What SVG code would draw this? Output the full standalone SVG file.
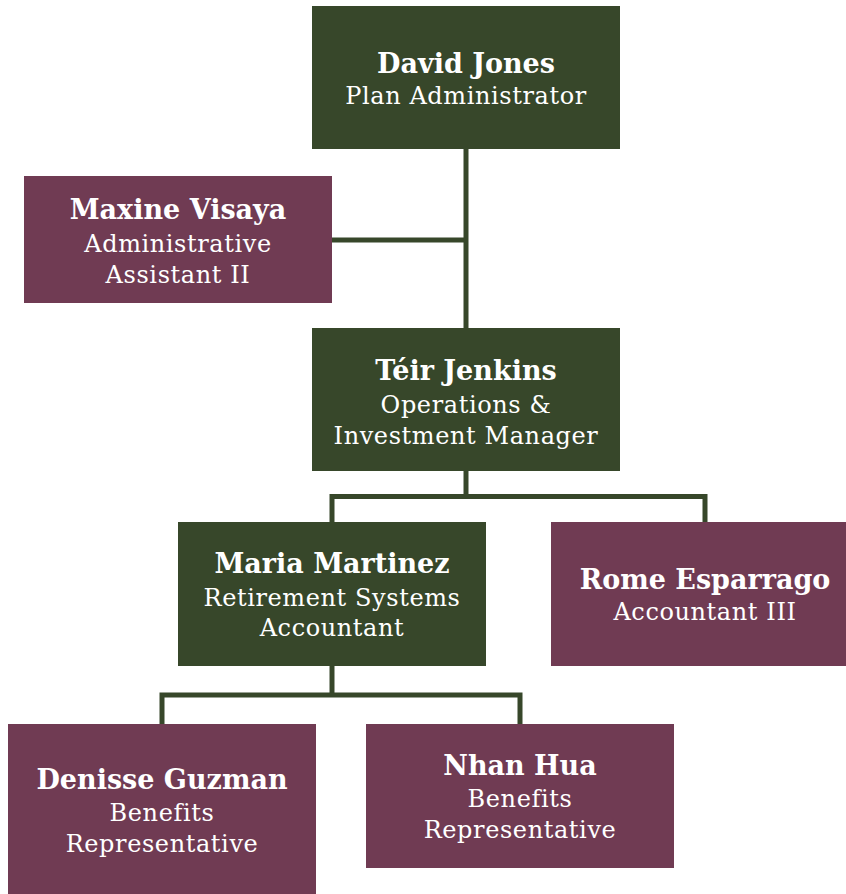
<svg xmlns="http://www.w3.org/2000/svg" width="846" height="894" viewBox="0 0 846 894">
<style>
.g{fill:#37472a}
.m{fill:#703b53}
.n{font-family:"DejaVu Serif",serif;font-weight:bold;font-size:27px;fill:#fff;text-anchor:middle}
.r{font-family:"DejaVu Serif",serif;font-size:24px;letter-spacing:0.6px;fill:#fff;text-anchor:middle}
.c{fill:none;stroke:#37472a;stroke-width:5;stroke-linejoin:miter}
</style>
<rect width="846" height="894" fill="#fff"/>
<g id="connectors">
<path class="c" d="M466,149 V328"/>
<path class="c" d="M332,240 H466"/>
<path class="c" d="M466,471 V496.5"/>
<path class="c" d="M332,522 V496.5 H705 V522"/>
<path class="c" d="M332,666 V695"/>
<path class="c" d="M162,724 V695 H520 V724"/>
</g>
<g id="david">
<rect class="g" x="312" y="6" width="308" height="143"/>
<text class="n" x="466" y="73">David Jones</text>
<text class="r" x="466" y="104">Plan Administrator</text>
</g>
<g id="maxine">
<rect class="m" x="24" y="176" width="308" height="127"/>
<text class="n" x="178" y="219">Maxine Visaya</text>
<text class="r" x="178" y="252">Administrative</text>
<text class="r" x="178" y="283">Assistant II</text>
</g>
<g id="teir">
<rect class="g" x="312" y="328" width="308" height="143"/>
<text class="n" x="466" y="380">Téir Jenkins</text>
<text class="r" x="466" y="413">Operations &amp;</text>
<text class="r" x="466" y="444">Investment Manager</text>
</g>
<g id="maria">
<rect class="g" x="178" y="522" width="308" height="144"/>
<text class="n" x="332" y="573">Maria Martinez</text>
<text class="r" x="332" y="606">Retirement Systems</text>
<text class="r" x="332" y="636">Accountant</text>
</g>
<g id="rome">
<rect class="m" x="551" y="522" width="308" height="144"/>
<text class="n" x="705" y="589">Rome Esparrago</text>
<text class="r" x="705" y="620">Accountant III</text>
</g>
<g id="denisse">
<rect class="m" x="8" y="724" width="308" height="175"/>
<text class="n" x="162" y="789">Denisse Guzman</text>
<text class="r" x="162" y="821">Benefits</text>
<text class="r" x="162" y="852">Representative</text>
</g>
<g id="nhan">
<rect class="m" x="366" y="724" width="308" height="144"/>
<text class="n" x="520" y="775">Nhan Hua</text>
<text class="r" x="520" y="807">Benefits</text>
<text class="r" x="520" y="838">Representative</text>
</g>
</svg>
